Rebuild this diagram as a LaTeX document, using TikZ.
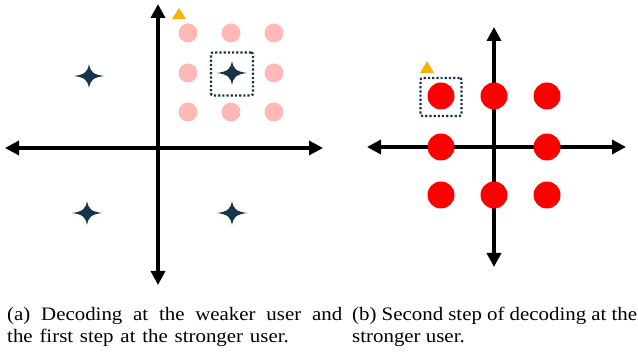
\documentclass[tikz,border=0pt]{standalone}
\usepackage{fontspec}
\setmainfont{Liberation Serif}[FakeStretch=1.1]
\usetikzlibrary{arrows.meta}
\definecolor{navy}{HTML}{17344A}
\definecolor{softpink}{HTML}{FFB8B8}
\definecolor{amber}{HTML}{F5B400}
\tikzset{
  axis/.style={line width=4pt, {Triangle[length=14pt,width=14pt]}-{Triangle[length=14pt,width=14pt]}},
  pinkdot/.style={circle, fill=softpink, minimum size=19pt, inner sep=0pt},
  reddot/.style={circle, fill=red, minimum size=27pt, inner sep=0pt},
  selbox/.style={draw=navy, line width=2.2pt, dotted, rounded corners=2pt, inner sep=0pt},
  marker/.style={fill=amber},
  caption/.style={anchor=north west, text width=#1, align=justify, inner sep=0pt,
    font=\fontsize{19}{22}\selectfont},
  star/.pic={\fill[navy] (-15,0) .. controls (-4,-1.5) and (-1.5,-4) .. (0,-12)
      .. controls (1.5,-4) and (4,-1.5) .. (15,0)
      .. controls (4,1.5) and (1.5,4) .. (0,12)
      .. controls (-1.5,4) and (-4,1.5) .. cycle;}
}
\begin{document}
\begin{tikzpicture}[x=1pt, y=-1pt]
\useasboundingbox (0,0) rectangle (638,352);

% ---- panel (a): constellation of the weaker user ----
\coordinate (aN) at (158,4);
\coordinate (aS) at (158,285);
\coordinate (aW) at (5,148);
\coordinate (aE) at (323,148);
% superimposed points of the stronger user's layer (centre one omitted)
\foreach \n/\x/\y in {11/188/33,21/231/33,31/274/33,
                      12/188/73,32/274/73,
                      13/188/112,23/231/112,33/274/112}
  \node[pinkdot] (p\n) at (\x,\y) {};
\draw[axis] (aS) -- (aN);
\draw[axis] (aW) -- (aE);
\coordinate (s1) at (89,76);
\coordinate (s2) at (232,73);
\coordinate (s3) at (87,213);
\coordinate (s4) at (232,213);
\foreach \s in {s1,s2,s3,s4} \pic at (\s) {star};
\node[selbox, minimum width=42pt, minimum height=43pt] (boxa) at (232,74) {};
\fill[marker] (172,19) -- (186,19) -- (179,8) -- cycle;

% ---- panel (b): second decoding step ----
\coordinate (bN) at (494,27);
\coordinate (bS) at (494,267);
\coordinate (bW) at (367,147);
\coordinate (bE) at (626,147);
\draw[axis] (bS) -- (bN);
\draw[axis] (bW) -- (bE);
\foreach \n/\x/\y in {11/441/96,21/494/96,31/547/96,
                      12/441/147,32/547/147,
                      13/441/195,23/494/195,33/547/195}
  \node[reddot] (r\n) at (\x,\y) {};
\node[selbox, minimum width=41pt, minimum height=38pt] (boxb) at (441,97) {};
\fill[marker] (420,73) -- (434,73) -- (427,61) -- cycle;

% ---- captions ----
\node[caption=335pt] (capa) at (7,307) {\spaceskip=6.8pt plus 8pt minus 1pt
  (a) Decoding at the weaker user and\linebreak the first step at the stronger user.};
\node[caption=285pt] (capb) at (352,307) {(b) Second step of decoding at the\linebreak stronger user.};
\end{tikzpicture}
\end{document}
